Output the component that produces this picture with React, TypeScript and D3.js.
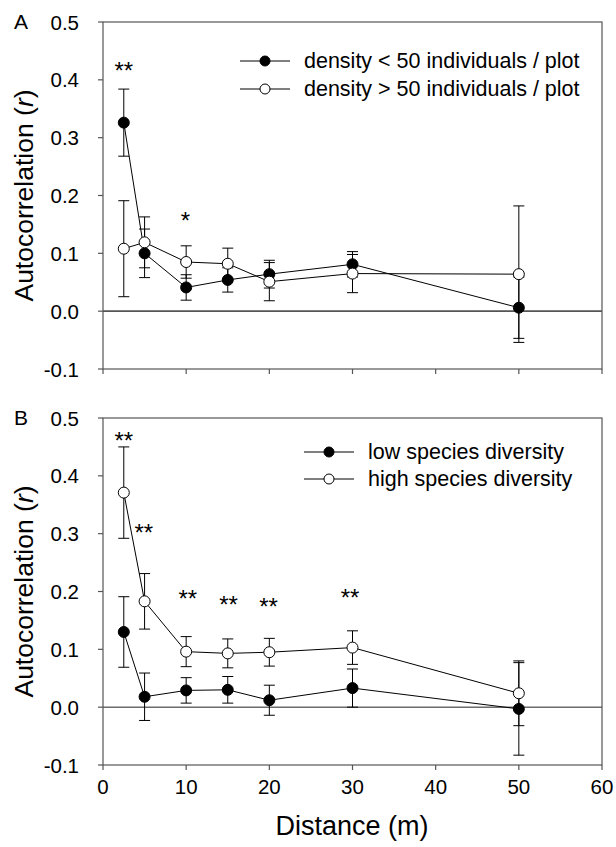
import React from "react";
import * as d3 from "d3";

const distances = [2.5, 5, 10, 15, 20, 30, 50];

// Panel A
const lowDensityMean = [0.326, 0.1, 0.041, 0.054, 0.064, 0.081, 0.006];
const lowDensityErr = [0.058, 0.042, 0.022, 0.021, 0.024, 0.022, 0.053];
const highDensityMean = [0.108, 0.119, 0.085, 0.082, 0.051, 0.065, 0.064];
const highDensityErr = [0.083, 0.044, 0.028, 0.027, 0.033, 0.033, 0.118];
const starsA = [
  { x: 2.5, y: 0.4256, t: "**" },
  { x: 9.9, y: 0.166, t: "*" },
];

// Panel B
const lowDiversityMean = [0.13, 0.018, 0.029, 0.03, 0.012, 0.033, -0.003];
const lowDiversityErr = [0.061, 0.041, 0.022, 0.023, 0.026, 0.033, 0.08];
const highDiversityMean = [0.371, 0.183, 0.096, 0.093, 0.095, 0.103, 0.024];
const highDiversityErr = [0.079, 0.048, 0.026, 0.025, 0.024, 0.029, 0.056];
const starsB = [
  { x: 2.5, y: 0.4706, t: "**" },
  { x: 4.9, y: 0.311, t: "**" },
  { x: 10.2, y: 0.197, t: "**" },
  { x: 15.1, y: 0.187, t: "**" },
  { x: 19.9, y: 0.183, t: "**" },
  { x: 29.7, y: 0.199, t: "**" },
];

const yTicks = [-0.1, 0.0, 0.1, 0.2, 0.3, 0.4, 0.5];
const xTicks = [0, 10, 20, 30, 40, 50, 60];

const FONT = "'Liberation Sans', Arial, sans-serif";
const X0 = 103;
const X1 = 602;

type Series = { mean: number[]; err: number[]; filled: boolean; label: string };

function Panel({
  top,
  bottom,
  letter,
  series,
  stars,
  legendX,
  legendY,
  legendTextX,
  showXLabels,
  zeroStroke,
  zeroWidth,
}: {
  top: number;
  bottom: number;
  letter: string;
  series: Series[];
  stars: { x: number; y: number; t: string }[];
  legendX: number;
  legendY: number[];
  legendTextX: number;
  showXLabels: boolean;
  zeroStroke: string;
  zeroWidth: number;
}) {
  const x = d3.scaleLinear().domain([0, 60]).range([X0, X1]);
  const y = d3.scaleLinear().domain([-0.1, 0.5]).range([bottom, top]);
  const line = d3
    .line<number>()
    .x((_, i) => x(distances[i]))
    .y((d) => y(d));
  const frame = "#555";
  return (
    <g>
      <text x={14} y={top + 7} fontSize={21} fontFamily={FONT}>
        {letter}
      </text>
      <line x1={X0} x2={X1} y1={y(0)} y2={y(0)} stroke={zeroStroke} strokeWidth={zeroWidth} />
      <rect x={X0} y={top} width={X1 - X0} height={bottom - top} fill="none" stroke={frame} strokeWidth={1.2} />
      {yTicks.map((t) => (
        <g key={t}>
          <line x1={X0 - 5} x2={X0} y1={y(t)} y2={y(t)} stroke={frame} strokeWidth={1.2} />
          <text
            x={79}
            y={y(t)}
            textAnchor="end"
            dominantBaseline="central"
            fontSize={20.5}
            fontFamily={FONT}
          >
            {t.toFixed(1)}
          </text>
        </g>
      ))}
      {xTicks.map((t) => (
        <g key={t}>
          <line x1={x(t)} x2={x(t)} y1={bottom} y2={bottom + 5} stroke={frame} strokeWidth={1.2} />
          {showXLabels && (
            <text
              x={x(t)}
              y={bottom + 21}
              textAnchor="middle"
              dominantBaseline="central"
              fontSize={20.5}
              fontFamily={FONT}
            >
              {t}
            </text>
          )}
        </g>
      ))}
      <text
        transform={`translate(33,${(top + bottom) / 2}) rotate(-90)`}
        textAnchor="middle"
        fontSize={26.5}
        fontFamily={FONT}
      >
        Autocorrelation (<tspan fontStyle="italic">r</tspan>)
      </text>
      {series.map((s, si) => (
        <path key={"l" + si} d={line(s.mean) || ""} fill="none" stroke="#000" strokeWidth={1} />
      ))}
      {series.map((s, si) =>
        s.mean.map((m, i) => {
          const cx = x(distances[i]);
          const yt = y(m + s.err[i]);
          const yb = y(m - s.err[i]);
          return (
            <g key={"e" + si + "-" + i} stroke="#000" strokeWidth={1}>
              <line x1={cx} x2={cx} y1={yt} y2={yb} />
              <line x1={cx - 5.5} x2={cx + 5.5} y1={yt} y2={yt} />
              <line x1={cx - 5.5} x2={cx + 5.5} y1={yb} y2={yb} />
            </g>
          );
        })
      )}
      {series.map((s, si) =>
        s.mean.map((m, i) => (
          <circle
            key={"c" + si + "-" + i}
            cx={x(distances[i])}
            cy={y(m)}
            r={5.5}
            fill={s.filled ? "#000" : "#fff"}
            stroke="#000"
            strokeWidth={1}
          />
        ))
      )}
      {stars.map((s, i) => (
        <text
          key={"s" + i}
          x={x(s.x)}
          y={y(s.y) + 14}
          textAnchor="middle"
          fontSize={24}
          fontFamily={FONT}
        >
          {s.t}
        </text>
      ))}
      {series.map((s, si) => (
        <g key={"lg" + si}>
          <line x1={legendX} x2={legendX + 50} y1={legendY[si]} y2={legendY[si]} stroke="#000" strokeWidth={1} />
          <circle
            cx={legendX + 25}
            cy={legendY[si]}
            r={5}
            fill={s.filled ? "#000" : "#fff"}
            stroke="#000"
            strokeWidth={1}
          />
          <text
            x={legendTextX}
            y={legendY[si]}
            dominantBaseline="central"
            fontSize={21.5}
            fontFamily={FONT}
          >
            {s.label}
          </text>
        </g>
      ))}
    </g>
  );
}

export default function App() {
  return (
    <svg
      width={616}
      height={847}
      style={{ position: "absolute", left: 0, top: 0, background: "#fff" }}
    >
      <rect x={0} y={0} width={616} height={847} fill="#fff" />
      <Panel
        top={22}
        bottom={369}
        letter="A"
        series={[
          { mean: lowDensityMean, err: lowDensityErr, filled: true, label: "density < 50 individuals / plot" },
          { mean: highDensityMean, err: highDensityErr, filled: false, label: "density > 50 individuals / plot" },
        ]}
        stars={starsA}
        legendX={240}
        legendY={[61, 89]}
        legendTextX={304}
        showXLabels={false}
        zeroStroke="#555"
        zeroWidth={1.8}
      />
      <Panel
        top={418}
        bottom={765}
        letter="B"
        series={[
          { mean: lowDiversityMean, err: lowDiversityErr, filled: true, label: "low species diversity" },
          { mean: highDiversityMean, err: highDiversityErr, filled: false, label: "high species diversity" },
        ]}
        stars={starsB}
        legendX={304}
        legendY={[452, 479]}
        legendTextX={368}
        showXLabels={true}
        zeroStroke="#222"
        zeroWidth={1}
      />
      <text x={352} y={835} textAnchor="middle" fontSize={27} fontFamily={FONT}>
        Distance (m)
      </text>
    </svg>
  );
}
